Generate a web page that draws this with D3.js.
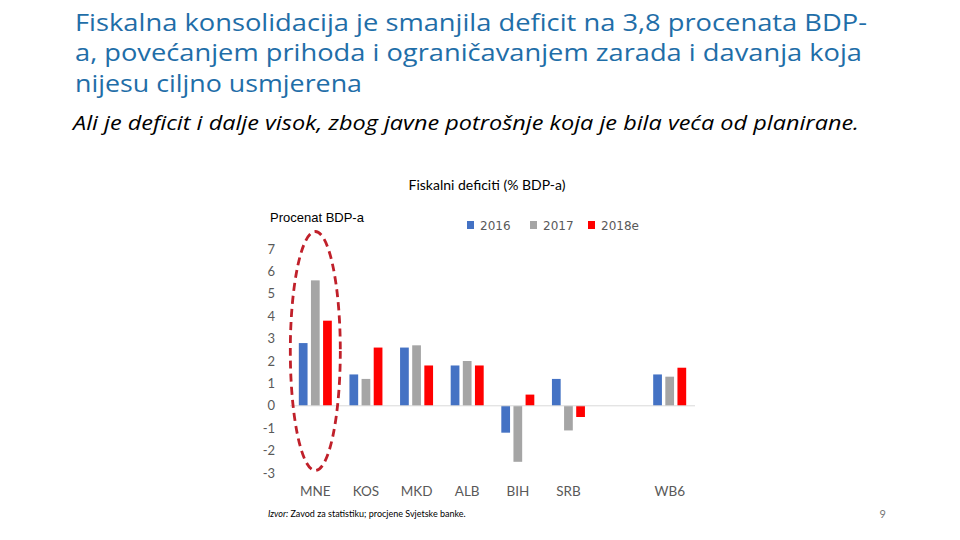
<!DOCTYPE html>
<html><head><meta charset="utf-8">
<script src="https://cdn.jsdelivr.net/npm/d3@7"></script>
<style>body{margin:0;background:#fff}svg{display:block}</style>
</head><body>
<svg id="c" width="960" height="540"></svg>
<script>
const categories = ["MNE","KOS","MKD","ALB","BIH","SRB","","WB6"];
const seriesNames = ["2016","2017","2018e"];
const values2016 = [2.8, 1.4, 2.6, 1.8, -1.2, 1.2, null, 1.4];
const values2017 = [5.6, 1.2, 2.7, 2.0, -2.5, -1.1, null, 1.3];
const values2018e = [3.8, 2.6, 1.8, 1.8, 0.5, -0.5, null, 1.7];
const yTicks = [-3,-2,-1,0,1,2,3,4,5,6,7];
const colors = ["#4472c4","#a5a5a5","#ff0000"];
const titleLines = ["Fiskalna konsolidacija je smanjila deficit na 3,8 procenata BDP-",
  "a, povećanjem prihoda i ograničavanjem zarada i davanja koja",
  "nijesu ciljno usmjerena"];
const titleWidths = [792, 787, 287];
const subtitle = "Ali je deficit i dalje visok, zbog javne potrošnje koja je bila veća od planirane.";

const svg = d3.select("#c");
const allSeries = [values2016, values2017, values2018e];

// Slide title
titleLines.forEach((t,i)=>{
  svg.append("text").attr("x",75).attr("y",30.7+i*30.5)
    .attr("font-family","'Open Sans', sans-serif").attr("font-weight",400)
    .attr("font-size",24.5).attr("fill","#1f6ea8")
    .attr("textLength",titleWidths[i]).attr("lengthAdjust","spacingAndGlyphs").text(t);
});
svg.append("text").attr("x",73).attr("y",130)
  .attr("font-family","'Open Sans', sans-serif").attr("font-style","italic")
  .attr("font-size",20).attr("fill","#000")
  .attr("textLength",786).attr("lengthAdjust","spacingAndGlyphs").text(subtitle);

// Chart
const x = d3.scaleBand().domain(categories.map((d,i)=>i)).range([290,695]).paddingInner(0);
const x1 = d3.scaleBand().domain(seriesNames).range([-16.5,16.5]).paddingInner(0.28);
const y = d3.scaleLinear().domain([-3,7]).range([473,249]);

svg.append("text").attr("x",487).attr("y",190).attr("text-anchor","middle")
  .attr("font-family","Lato, sans-serif").attr("font-size",14).attr("fill","#000")
  .text("Fiskalni deficiti (% BDP-a)");

svg.append("clipPath").attr("id","clipY").append("rect").attr("x",260).attr("y",200).attr("width",108).attr("height",30);
svg.append("text").attr("x",270).attr("y",222).attr("clip-path","url(#clipY)")
  .attr("font-family","'Liberation Sans', Arial, sans-serif").attr("font-size",13).attr("fill","#000")
  .text("Procenat BDP-a");

// y axis labels
const yAxis = d3.axisLeft(y).tickValues(yTicks).tickSize(0).tickPadding(0).tickFormat(d=>String(d));
const ya = svg.append("g").attr("transform","translate(275,0)").call(yAxis);
ya.select(".domain").remove();
ya.selectAll("text").attr("font-family","Lato, sans-serif").attr("font-size",13).attr("fill","#595959");

// bars
seriesNames.forEach((s,si)=>{
  svg.append("g").selectAll("rect").data(allSeries[si].map((v,i)=>({v,i})).filter(d=>d.v!==null))
    .join("rect")
    .attr("x",d=>x(d.i)+x.bandwidth()/2+x1(s))
    .attr("width",x1.bandwidth())
    .attr("y",d=>y(Math.max(0,d.v)))
    .attr("height",d=>Math.abs(y(d.v)-y(0)))
    .attr("fill",colors[si]);
});

// zero line
svg.append("line").attr("x1",290).attr("x2",695).attr("y1",y(0)).attr("y2",y(0))
  .attr("stroke","#d9d9d9").attr("stroke-width",1);

// category labels
const xAxis = d3.axisBottom(x).tickSize(0).tickPadding(0).tickFormat(i=>categories[i]);
const xa = svg.append("g").attr("transform","translate(0,486)").call(xAxis);
xa.select(".domain").remove();
xa.selectAll("text").attr("font-family","Lato, sans-serif").attr("font-size",13.5).attr("fill","#595959");

// legend
const legX = [467,530,588];
seriesNames.forEach((s,i)=>{
  svg.append("rect").attr("x",legX[i]).attr("y",221).attr("width",7).attr("height",8).attr("fill",colors[i]);
  svg.append("text").attr("x",legX[i]+13).attr("y",230).attr("font-family","'DejaVu Sans', sans-serif")
    .attr("font-size",12).attr("fill","#595959").text(s);
});

// highlight ellipse
svg.append("ellipse").attr("cx",x(0)+x.bandwidth()/2).attr("cy",351).attr("rx",25).attr("ry",119.5)
  .attr("fill","none").attr("stroke","#c0202a").attr("stroke-width",2.8).attr("stroke-dasharray","8,5");

// source
const src = svg.append("text").attr("x",268).attr("y",517).attr("font-family","Lato, sans-serif")
  .attr("font-size",9).attr("fill","#000");
src.append("tspan").attr("font-style","italic").text("Izvor: ");
src.append("tspan").text("Zavod za statistiku; procjene Svjetske banke.");

svg.append("text").attr("x",886).attr("y",518).attr("text-anchor","end").attr("font-family","Lato, sans-serif")
  .attr("font-size",11).attr("fill","#777").text("9");
</script>
</body></html>
